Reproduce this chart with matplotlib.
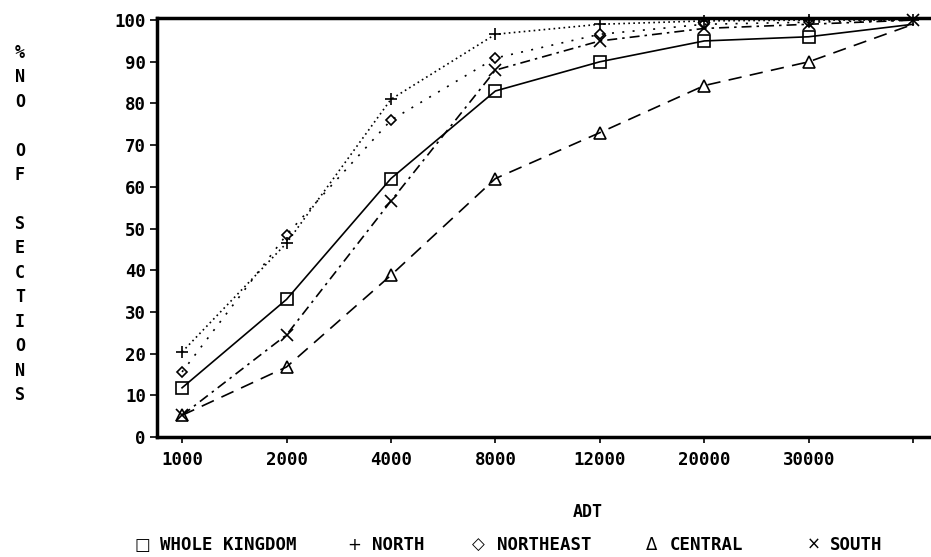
import matplotlib
matplotlib.use("Agg")
import matplotlib.pyplot as plt

adt = ["1000", "2000", "4000", "8000", "12000", "20000", "30000", ""]
whole = [11.8, 33, 62, 83, 90, 95, 96, 99]
north = [20.4, 46.5, 81, 96.6, 99, 99.8, 100, 100]
northeast = [15.6, 48.5, 76, 90.9, 96.6, 99, 99.5, 100]
central = [5.2, 16.8, 38.8, 62, 73, 84.3, 90, 99]
south = [5.2, 24.5, 56.6, 88, 95, 98, 99, 100]

# name, values, marker, size, line style, legend glyph, mark last point?
series = [
    ("WHOLE KINGDOM", whole, "s", 9, "-", "\u25a1", False),
    ("NORTH", north, "+", 9, (0, (1, 2)), "+", True),
    ("NORTHEAST", northeast, "D", 5, (0, (1.2, 5)), "\u25c7", False),
    ("CENTRAL", central, "^", 8, (0, (8, 5)), "\u0394", False),
    ("SOUTH", south, "x", 8, (0, (6, 3, 1.5, 3)), "\u00d7", True),
]

mono = "DejaVu Sans Mono"

fig = plt.figure(figsize=(9.31, 5.57), dpi=100)
ax = fig.add_axes([157 / 931, 1 - 437 / 557, 1 - 157 / 931, 419 / 557])

x = list(range(len(adt)))
for name, vals, mk, ms, ls, sym, last in series:
    every = None if last else list(range(len(vals) - 1))
    ax.plot(x, vals, color="black", linestyle=ls, linewidth=1.2,
            marker=mk, markersize=ms, markerfacecolor="none",
            markeredgecolor="black", markeredgewidth=1.2, clip_on=False,
            markevery=every)

ax.set_xlim(-0.24, 7.17)
ax.set_ylim(0, 100.5)
ax.set_xticks(x)
ax.set_xticklabels(adt, fontfamily=mono, fontweight="bold", fontsize=12.5)
ax.set_yticks(range(0, 101, 10))
ax.set_yticklabels([str(v) for v in range(0, 101, 10)], fontfamily=mono,
                   fontweight="bold", fontsize=12.5)
ax.tick_params(axis="y", direction="out", length=5, width=1.2, pad=3)
ax.tick_params(axis="x", direction="out", length=4, width=1.2, pad=6)

for s in ["left", "bottom", "top"]:
    ax.spines[s].set_linewidth(2.5)
ax.spines["right"].set_visible(False)

fig.text(20 / 931, 1 - 224 / 557, "%\nN\nO\n\nO\nF\n\nS\nE\nC\nT\nI\nO\nN\nS",
         ha="center", va="center", fontfamily=mono, fontweight="bold",
         fontsize=12, linespacing=1.46)

fig.text(588 / 931, 1 - 512 / 557, "ADT", ha="center", va="center",
         fontfamily=mono, fontweight="bold", fontsize=12)

sym_x = [142, 354, 478, 652, 814]
lab_x = [160, 372, 497, 670, 830]
for (name, vals, mk, ms, ls, sym, last), sx, lx in zip(series, sym_x, lab_x):
    fig.text(sx / 931, 1 - 545 / 557, sym, ha="center", va="center",
             fontfamily="DejaVu Sans", fontsize=12)
    fig.text(lx / 931, 1 - 545 / 557, name, ha="left", va="center",
             fontfamily=mono, fontweight="bold", fontsize=12.5)

fig.savefig("out.png", dpi=100)
